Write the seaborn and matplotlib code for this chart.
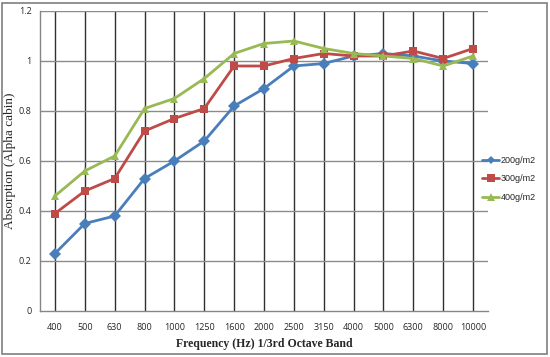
import matplotlib
matplotlib.use("Agg")
import matplotlib.pyplot as plt
import seaborn as sns
import pandas as pd
from matplotlib.patches import Rectangle

freqs = ["400", "500", "630", "800", "1000", "1250", "1600", "2000",
         "2500", "3150", "4000", "5000", "6300", "8000", "10000"]
s200 = [0.23, 0.35, 0.38, 0.53, 0.60, 0.68, 0.82, 0.89, 0.98, 0.99, 1.02, 1.03, 1.02, 1.00, 0.99]
s300 = [0.39, 0.48, 0.53, 0.72, 0.77, 0.81, 0.98, 0.98, 1.01, 1.03, 1.02, 1.02, 1.04, 1.01, 1.05]
s400 = [0.46, 0.56, 0.62, 0.81, 0.85, 0.93, 1.03, 1.07, 1.08, 1.05, 1.03, 1.02, 1.01, 0.98, 1.02]
series_names = ["200g/m2", "300g/m2", "400g/m2"]
yticks = [0, 0.2, 0.4, 0.6, 0.8, 1, 1.2]

rows = []
for name, vals in zip(series_names, [s200, s300, s400]):
    for f, v in zip(freqs, vals):
        rows.append({"freq": f, "value": v, "series": name})
df = pd.DataFrame(rows)

sns.set_style("white")
fig = plt.figure(figsize=(5.5, 3.57), dpi=100)
ax = fig.add_axes([40/550, 46/357, 448/550, 300/357])

colors = {"200g/m2": "#4A7EBB", "300g/m2": "#BE4B48", "400g/m2": "#98B954"}
markers = {"200g/m2": "D", "300g/m2": "s", "400g/m2": "^"}
msizes = {"200g/m2": 4, "300g/m2": 6, "400g/m2": 6}

# grid lines
for i in range(len(freqs)):
    ax.axvline(i, color="#303030", lw=1.0, zorder=1)
for y in yticks[1:]:
    ax.axhline(y, color="#8c8c8c", lw=1.0, zorder=1)

sns.lineplot(data=df, x="freq", y="value", hue="series", style="series",
             palette=colors, markers=markers, dashes=False, sort=False,
             linewidth=2, markersize=6, markeredgewidth=0, ax=ax, zorder=3)
for line, name in zip(ax.get_lines()[-3:], series_names):
    line.set_markersize(msizes[name])

ax.set_xlim(-0.5, len(freqs) - 0.5)
ax.set_ylim(0, 1.2)
ax.set_yticks(yticks)
ax.set_yticklabels(["0", "0.2", "0.4", "0.6", "0.8", "1", "1.2"])
ax.tick_params(axis="both", labelsize=6.5, length=3, color="#868686", direction="out")
ax.tick_params(axis="y", pad=3)
ax.tick_params(axis="x", length=0, pad=9)
for lab in ax.get_xticklabels() + ax.get_yticklabels():
    lab.set_fontfamily("Open Sans")

for side in ["top", "right"]:
    ax.spines[side].set_visible(False)
for side in ["left", "bottom"]:
    ax.spines[side].set_color("#868686")
    ax.spines[side].set_linewidth(1)

ax.set_xlabel("Frequency (Hz) 1/3rd Octave Band", fontfamily="Liberation Serif",
              fontweight="bold", fontsize=8.5, labelpad=4)
ax.set_ylabel("Absorption (Alpha cabin)", fontfamily="Liberation Serif",
              fontsize=9.5)
ax.yaxis.set_label_coords(-0.053, 0.5)

handles, labels = ax.get_legend_handles_labels()
for h, name in zip(handles, labels):
    h.set_markersize(msizes[name] * 0.9)
leg = ax.legend(handles, labels, loc="center left",
                frameon=False, fontsize=6.5, handlelength=1.9, handletextpad=0.15,
                labelspacing=1.05, borderaxespad=0, borderpad=0)
for t in leg.get_texts():
    t.set_fontfamily("Liberation Sans")
leg.set_bbox_to_anchor((482/550, (357 - 179)/357), transform=fig.transFigure)

fig.patches.append(Rectangle((2/550, 3/357), 545/550, 351/357, transform=fig.transFigure,
                             fill=False, edgecolor="#7f7f7f", lw=1.2))

fig.savefig("out.png", dpi=100)
